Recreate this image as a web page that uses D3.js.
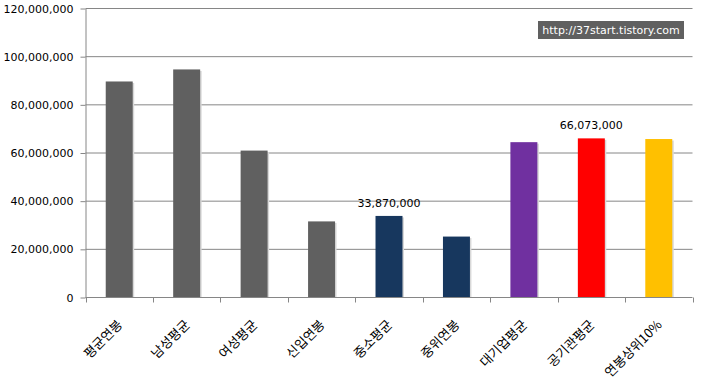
<!DOCTYPE html>
<html>
<head>
<meta charset="utf-8">
<script src="https://d3js.org/d3.v7.min.js"></script>
<style>
  body { margin: 0; background: #fff; }
  text { font-family: "Noto Sans CJK KR", "DejaVu Sans", sans-serif; }
</style>
</head>
<body>
<div id="chart"></div>
<script>

// salary data
var categories = ["평균연봉", "남성평균", "여성평균", "신입연봉", "중소평균", "중위연봉", "대기업평균", "공기관평균", "연봉상위10%"];
var salaries = [89700000, 94700000, 61000000, 31600000, 33870000, 25300000, 64500000, 66073000, 65800000];
var barColors = ["#606060", "#606060", "#606060", "#606060", "#17375E", "#17375E", "#7030A0", "#FF0000", "#FFC000"];
var labelled = ["중소평균", "공기관평균"];
var yTicks = [0, 20000000, 40000000, 60000000, 80000000, 100000000, 120000000];

var width = 701, height = 385;
var plotLeft = 85.5, plotRight = 692.5, plotTop = 8.5, plotBottom = 297.5;

var svg = d3.select("#chart").append("svg")
    .attr("width", width)
    .attr("height", height);

var x = d3.scaleBand()
    .domain(categories)
    .range([plotLeft, plotRight])
    .paddingInner(0.6)
    .paddingOuter(0.3);

var y = d3.scaleLinear()
    .domain([0, 120000000])
    .range([plotBottom, plotTop]);

var fmt = d3.format(",");

// gridlines
svg.append("g").selectAll("line")
    .data(yTicks.slice(1))
    .enter().append("line")
    .attr("x1", plotLeft).attr("x2", plotRight)
    .attr("y1", function(d) { return y(d); })
    .attr("y2", function(d) { return y(d); })
    .attr("stroke", "#868686");

// y axis
var yAxis = d3.axisLeft(y).tickValues(yTicks).tickFormat(fmt).tickSize(5).tickPadding(7).tickSizeOuter(0);
var gy = svg.append("g")
    .attr("transform", "translate(" + plotLeft + ",0)")
    .call(yAxis);
gy.select(".domain").attr("stroke", "#868686");
gy.selectAll(".tick line").attr("stroke", "#868686");
gy.selectAll("text").attr("font-size", "11px").attr("fill", "#000")
    .style("font-family", "'DejaVu Sans', sans-serif");

// bar shadows
svg.append("g").selectAll("rect")
    .data(salaries)
    .enter().append("rect")
    .attr("x", function(d, i) { return x(categories[i]) + 1.5; })
    .attr("y", function(d) { return y(d) + 1.5; })
    .attr("width", x.bandwidth())
    .attr("height", function(d) { return plotBottom - y(d) - 1.5; })
    .attr("fill", "#d8d8d8");

// bars
svg.append("g").selectAll("rect")
    .data(salaries)
    .enter().append("rect")
    .attr("x", function(d, i) { return x(categories[i]); })
    .attr("y", function(d) { return y(d); })
    .attr("width", x.bandwidth())
    .attr("height", function(d) { return plotBottom - y(d); })
    .attr("fill", function(d, i) { return barColors[i]; });

// x axis
var band = (plotRight - plotLeft) / categories.length;
var gx = svg.append("g");
gx.append("line")
    .attr("x1", plotLeft).attr("x2", plotRight)
    .attr("y1", plotBottom).attr("y2", plotBottom)
    .attr("stroke", "#868686");
gx.selectAll(".xt")
    .data(d3.range(categories.length + 1))
    .enter().append("line")
    .attr("class", "xt")
    .attr("x1", function(i) { return Math.round(plotLeft + i * band) + 0.5; })
    .attr("x2", function(i) { return Math.round(plotLeft + i * band) + 0.5; })
    .attr("y1", plotBottom).attr("y2", plotBottom + 5)
    .attr("stroke", "#868686");

gx.selectAll(".xl")
    .data(categories)
    .enter().append("text")
    .attr("class", "xl")
    .attr("text-anchor", "end")
    .attr("font-size", "13px")
    .attr("fill", "#000")
    .attr("transform", function(d) {
        return "translate(" + (x(d) + x.bandwidth() / 2 + 4) + "," + (plotBottom + 28) + ") rotate(-45)";
    })
    .text(function(d) { return d; });

// value labels
svg.append("g").selectAll("text")
    .data(categories.filter(function(c) { return labelled.indexOf(c) >= 0; }))
    .enter().append("text")
    .attr("x", function(c) { return x(c) + x.bandwidth() / 2; })
    .attr("y", function(c) { return y(salaries[categories.indexOf(c)]) - 9; })
    .attr("text-anchor", "middle")
    .attr("font-size", "11px")
    .attr("fill", "#000")
    .style("font-family", "'DejaVu Sans', sans-serif")
    .text(function(c) { return fmt(salaries[categories.indexOf(c)]); });

// watermark
svg.append("rect")
    .attr("x", 538).attr("y", 21)
    .attr("width", 146).attr("height", 18)
    .attr("fill", "#606060");
svg.append("text")
    .attr("x", 611).attr("y", 34)
    .attr("text-anchor", "middle")
    .attr("font-size", "11px")
    .attr("fill", "#fff")
    .style("font-family", "'DejaVu Sans', sans-serif")
    .text("http://37start.tistory.com");

</script>
</body>
</html>
